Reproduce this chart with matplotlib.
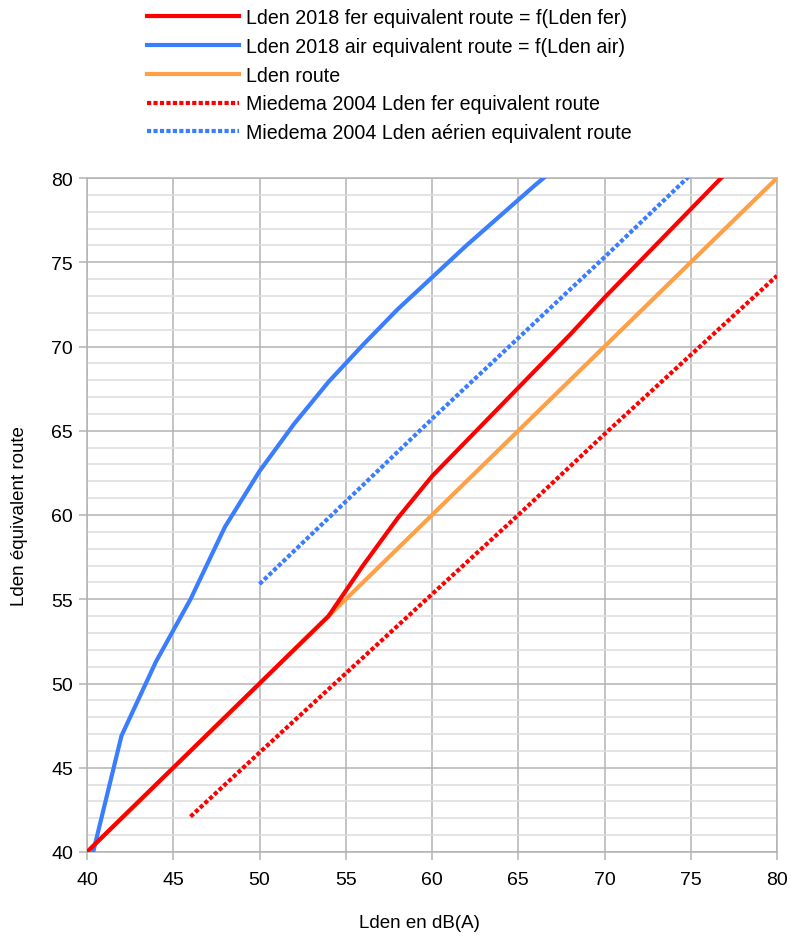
import matplotlib
matplotlib.use("Agg")
import matplotlib.pyplot as plt
from matplotlib.ticker import MultipleLocator

plt.rcParams['font.family'] = ['Liberation Sans', 'DejaVu Sans']

# Data
fer2018_x = [40, 42, 44, 46, 48, 50, 52, 54, 56, 58, 60, 62, 64, 66, 68, 70, 72, 74, 76, 78]
fer2018_y = [40, 42, 44, 46, 48, 50, 52, 54, 57.0, 59.8, 62.3, 64.4, 66.5, 68.6, 70.7, 72.9, 75.0, 77.1, 79.2, 81.3]

air2018_x = [40, 42, 44, 46, 48, 50, 52, 54, 56, 58, 60, 62, 64, 66, 68]
air2018_y = [38.5, 46.9, 51.3, 55.0, 59.3, 62.6, 65.4, 67.9, 70.1, 72.2, 74.1, 76.0, 77.8, 79.6, 81.3]

route_x = [40, 80]
route_y = [40, 80]

miedema_fer_x = [46, 50, 55, 60, 65, 70, 75, 80]
miedema_fer_y = [42.1, 45.9, 50.6, 55.3, 60.0, 64.8, 69.5, 74.2]

miedema_air_x = [50, 55, 60, 65, 70, 75]
miedema_air_y = [55.9, 60.8, 65.7, 70.5, 75.3, 80.2]

labels = [
    "Lden 2018 fer equivalent route = f(Lden fer)",
    "Lden 2018 air equivalent route = f(Lden air)",
    "Lden route",
    "Miedema 2004 Lden fer equivalent route",
    "Miedema 2004 Lden aérien equivalent route",
]

RED = "#ff0000"
BLUE = "#3a7dff"
ORANGE = "#ffa047"

fig = plt.figure(figsize=(7.91, 9.37), dpi=100)
ax = fig.add_axes([87/791, 1-853/937, (777-87)/791, (853-179)/937])

lw = 3.0
dot = (0, (1, 0.55))
h_fer, = ax.plot(fer2018_x, fer2018_y, color=RED, lw=lw, zorder=5, solid_joinstyle='round')
h_air, = ax.plot(air2018_x, air2018_y, color=BLUE, lw=lw, zorder=4)
h_route, = ax.plot(route_x, route_y, color=ORANGE, lw=lw, zorder=3)
h_mf, = ax.plot(miedema_fer_x, miedema_fer_y, color=RED, lw=lw, ls=dot, dash_capstyle='butt', zorder=3)
h_ma, = ax.plot(miedema_air_x, miedema_air_y, color=BLUE, lw=lw, ls=dot, dash_capstyle='butt', zorder=3)

ax.set_xlim(40, 80)
ax.set_ylim(40, 80)
ax.xaxis.set_major_locator(MultipleLocator(5))
ax.yaxis.set_major_locator(MultipleLocator(5))
ax.yaxis.set_minor_locator(MultipleLocator(1))
ax.grid(True, which='major', color='#b3b3b3', lw=1.1, zorder=0)
ax.grid(True, which='minor', axis='y', color='#dddddd', lw=1.1, zorder=0)
ax.set_axisbelow(True)
for s in ax.spines.values():
    s.set_color('#b3b3b3')
    s.set_linewidth(1.1)
ax.tick_params(which='major', length=6, width=1.1, color='#b3b3b3', labelsize=14, pad=4)
ax.tick_params(axis='x', which='major', pad=8)
ax.tick_params(which='minor', length=0)

ax.set_xlabel("Lden en dB(A)", fontsize=13.5, labelpad=18)
ax.xaxis.set_label_coords(0.482, -0.092)
ax.set_ylabel("Lden équivalent route", fontsize=13.5)
ax.yaxis.set_label_coords(-0.085, 0.5)

fig.legend([h_fer, h_air, h_route, h_mf, h_ma], labels,
           loc='upper left', bbox_to_anchor=(147/791, 1-9/937),
           frameon=False, fontsize=14.1, handlelength=4.7, handletextpad=0.35,
           labelspacing=0.5, borderaxespad=0, borderpad=0)

fig.savefig("out.png", dpi=100)
